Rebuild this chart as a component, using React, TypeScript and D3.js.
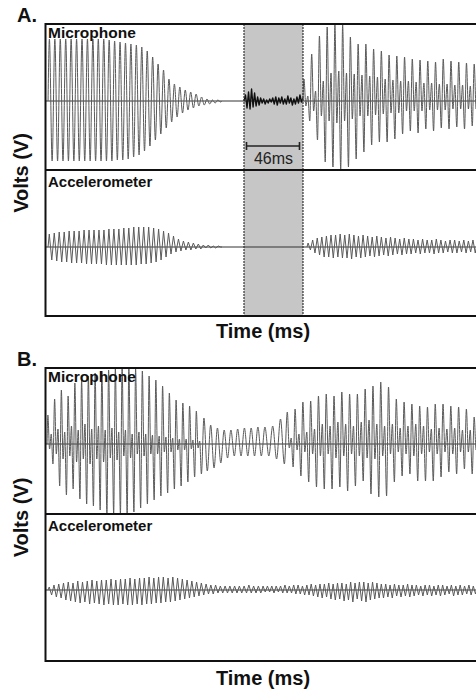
import React from 'react';
import * as d3 from 'd3';

// ---------------- DATA (arbitrary signal units) ----------------
// Time window (ms) covered by each panel
const TIME_DOMAIN: [number, number] = [0, 340];
const GAP_START_MS = 154.4;
const GAP_LENGTH_MS = 46;

// Panel A – Microphone, before the gap (per-cycle peaks)
const MIC_A1_TOPS = [62, 62, 62, 62, 62, 62, 62, 62, 62, 62, 62, 61, 60, 59, 58, 57, 56, 54, 50, 44, 37, 31, 22, 17, 14, 11, 9, 7, 4, 2, 1, 1];
const MIC_A1_BOTS = [-60, -60, -60, -60, -60, -60, -60, -60, -60, -60, -60, -60, -59, -59, -58, -56, -54, -50, -45, -39, -33, -27, -21, -16, -12, -9, -7, -5, -4, -3, -2, -1];
// Panel A – Microphone, noise inside the 46 ms gap
const MIC_A_GAP = [0, 6, -7, 9, -8, 12, -6, 8, -5, 4, -4, 3, -2, 2, -3, 1, -2, 2, -1, 3, -3, 4, -4, 3, -2, 4, -3, 2, -3, 5, -2, 3, -4, 2, -3, 4, -2, 6, -1, 3];
// Panel A – Microphone, after the gap
const MIC_A2_TOPS = [22, 47, 65, 74, 77, 76, 64, 57, 57, 52, 50, 46, 45, 44, 42, 41, 40, 39, 42, 40, 39, 38, 37];
const MIC_A2_DIPS = [-5, -10, -15, -20, -22, -20, -18, -15, -15, -14, -13, -12, -12, -10, -10, -10, -9, -9, -9, -8, -8, -8, -8];
const MIC_A2_SUBS = [5, 10, 20, 28, 30, 28, 27, 26, 25, 24, 22, 21, 20, 20, 19, 18, 18, 17, 17, 16, 16, 15, 15];
const MIC_A2_BOTS = [-20, -39, -61, -66, -68, -66, -58, -51, -44, -41, -41, -38, -33, -30, -32, -28, -30, -27, -28, -26, -28, -25, -26];

// Panel A – Accelerometer
const ACC_A1_TOPS = [13, 14, 15, 15, 16, 16, 16, 17, 17, 17, 17, 17, 18, 18, 18, 19, 19, 20, 20, 20, 20, 19, 18, 16, 14, 11, 8, 6, 5, 4, 3, 2, 2, 1, 1];
const ACC_A1_BOTS = [-13, -14, -15, -15, -16, -16, -16, -17, -17, -17, -17, -18, -18, -18, -18, -18, -18, -18, -17, -17, -16, -15, -13, -10, -7, -5, -4, -3, -3, -2, -2, -1, -1, -1, 0];
const ACC_A2_TOPS = [4, 7, 9, 10, 11, 12, 12, 13, 12, 13, 12, 11, 12, 11, 10, 11, 10, 9, 10, 9, 8, 9, 8, 8, 7, 8, 7, 7, 8, 7, 6, 7, 7, 6, 7, 6, 7, 6];
const ACC_A2_BOTS = [-3, -6, -8, -10, -10, -11, -10, -11, -11, -12, -10, -11, -10, -9, -10, -9, -8, -9, -8, -7, -8, -7, -7, -6, -7, -6, -6, -7, -6, -6, -5, -6, -6, -5, -6, -5, -6, -5];

// Panel B – Microphone
const MIC_B1_TOPS = [29, 45, 54, 48, 61, 64, 68, 71, 73, 74, 76, 76, 76, 75, 73, 68, 64, 58, 51, 44, 41, 38, 33, 26, 19, 16, 14, 14, 15, 16, 16, 17];
const MIC_B1_DIPS = [-5, -10, -15, -12, -18, -15, -20, -15, -18, -14, -16, -12, -14, -10, -12, -10, -10, -8, -8, -6, -6, -5, -4, null, null, null, null, null, null, null, null, null];
const MIC_B1_SUBS = [10, 15, 12, 18, 14, 20, 15, 18, 14, 16, 12, 14, 10, 12, 10, 9, 8, 7, 6, 5, 5, 4, 3, null, null, null, null, null, null, null, null, null];
const MIC_B1_BOTS = [-20, -42, -51, -45, -55, -60, -62, -66, -69, -70, -70, -70, -68, -64, -60, -56, -52, -49, -45, -42, -38, -33, -30, -27, -24, -19, -14, -12, -12, -12, -12, -12];
const MIC_B2_TOPS = [17, 18, 25, 32, 35, 42, 43, 48, 50, 48, 52, 50, 50, 55, 58, 62, 57, 45, 42, 40, 38, 37, 40, 40, 38, 37, 35, 27];
const MIC_B2_DIPS = [null, null, null, -4, -6, -8, -10, -12, -10, -14, -12, -10, -12, -14, -15, -12, -10, -8, -10, -12, -10, -8, -10, -8, -10, -8, -8, -6];
const MIC_B2_SUBS = [null, null, null, 6, 10, 12, 15, 20, 18, 22, 20, 18, 22, 24, 20, 18, 20, 16, 18, 20, 18, 15, 16, 15, 16, 14, 14, 12];
const MIC_B2_BOTS = [-12, -15, -20, -23, -32, -38, -43, -45, -45, -43, -47, -42, -37, -50, -53, -52, -38, -32, -30, -37, -37, -37, -33, -28, -30, -25, -30, -28];

// Panel B – Accelerometer
const ACC_B1_TOPS = [3, 5, 6, 7, 8, 7, 9, 8, 9, 10, 9, 10, 10, 11, 10, 11, 11, 12, 11, 12, 12, 13, 12, 13, 13, 12, 13, 12, 11, 10, 9, 8, 7, 6, 5, 5, 4, 4, 4, 4, 4, 4, 5, 4, 4];
const ACC_B1_BOTS = [-5, -7, -8, -10, -11, -12, -13, -12, -14, -13, -14, -15, -14, -15, -15, -14, -15, -15, -14, -15, -14, -14, -13, -13, -12, -12, -11, -10, -9, -8, -7, -6, -5, -4, -4, -3, -3, -3, -3, -3, -3, -3, -3, -3, -3];
const ACC_B2_TOPS = [4, 4, 4, 4, 4, 5, 4, 5, 5, 4, 5, 6, 5, 6, 6, 7, 6, 7, 7, 6, 8, 7, 8, 8, 7, 8, 7, 6, 6, 5, 6, 5, 5, 6, 5, 5, 4, 5, 5, 4, 5, 5, 4, 5, 4, 5, 4, 5, 4, 5];
const ACC_B2_BOTS = [-2, -2, -3, -2, -3, -3, -3, -4, -4, -5, -5, -6, -7, -8, -7, -9, -10, -9, -11, -10, -12, -9, -11, -12, -10, -9, -8, -8, -7, -8, -6, -7, -6, -7, -6, -5, -6, -5, -6, -5, -6, -5, -4, -6, -5, -5, -4, -5, -4, -5];

// Segment time spans (ms)
const SEG_MIC_A1: [number, number] = [1.6, 137.2];
const SEG_MIC_A2: [number, number] = [200.4, 339.2];
const SEG_ACC_A1: [number, number] = [1.6, 137.2];
const SEG_ACC_A2: [number, number] = [203.5, 339.2];
const SEG_MIC_B1: [number, number] = [0.8, 169.2];
const SEG_MIC_B2: [number, number] = [169.2, 339.2];
const SEG_ACC_B1: [number, number] = [1.6, 168.4];
const SEG_ACC_B2: [number, number] = [168.4, 339.2];

// ---------------- LAYOUT ----------------
const W = 476;
const H = 692;
const LEFT = 45.5;
const FONT = '"Liberation Sans", Arial, Helvetica, sans-serif';

type Seg = {
  span: [number, number];
  tops?: number[];
  bots?: number[];
  dips?: (number | null)[];
  subs?: (number | null)[];
  vals?: number[];
  linear?: boolean;
  color?: string;
  width?: number;
};

function segPoints(seg: Seg): [number, number][] {
  const [t0, t1] = seg.span;
  if (seg.vals) {
    const n = seg.vals.length;
    return seg.vals.map((v, i) => [t0 + ((t1 - t0) * i) / (n - 1), v] as [number, number]);
  }
  const tops = seg.tops!;
  const bots = seg.bots!;
  const n = tops.length;
  const P = (t1 - t0) / n;
  const pts: [number, number][] = [[t0, 0]];
  for (let i = 0; i < n; i++) {
    const ext: number[] = [tops[i]];
    const d = seg.dips ? seg.dips[i] : null;
    const s = seg.subs ? seg.subs[i] : null;
    if (d != null && s != null) ext.push(d, s);
    ext.push(bots[i]);
    const c0 = t0 + i * P;
    ext.forEach((v, j) => pts.push([c0 + (P * (j + 0.5)) / ext.length, v]));
  }
  pts.push([t1, 0]);
  return pts;
}

type Sub = {
  id: string;
  label: string;
  top: number;
  bottom: number;
  domain: [number, number];
  segs: Seg[];
};

type Panel = {
  letter: string;
  letterY: number;
  top: number;
  mid: number;
  bottom: number;
  subs: Sub[];
  gap: boolean;
  titleY: number;
};

const x = d3.scaleLinear().domain(TIME_DOMAIN).range([46, 482]);

const panels: Panel[] = [
  {
    letter: 'A.',
    letterY: 22,
    top: 24,
    mid: 170,
    bottom: 316,
    gap: true,
    titleY: 338,
    subs: [
      {
        id: 'amic', label: 'Microphone', top: 24, bottom: 170, domain: [-69, 77],
        segs: [
          { span: SEG_MIC_A1, tops: MIC_A1_TOPS, bots: MIC_A1_BOTS },
          { span: [GAP_START_MS, GAP_START_MS + GAP_LENGTH_MS], vals: MIC_A_GAP, linear: true, color: '#111', width: 1.4 },
          { span: SEG_MIC_A2, tops: MIC_A2_TOPS, bots: MIC_A2_BOTS, dips: MIC_A2_DIPS, subs: MIC_A2_SUBS },
        ],
      },
      {
        id: 'aacc', label: 'Accelerometer', top: 170, bottom: 316, domain: [-69, 77],
        segs: [
          { span: SEG_ACC_A1, tops: ACC_A1_TOPS, bots: ACC_A1_BOTS, linear: true },
          { span: SEG_ACC_A2, tops: ACC_A2_TOPS, bots: ACC_A2_BOTS, linear: true },
        ],
      },
    ],
  },
  {
    letter: 'B.',
    letterY: 366,
    top: 368,
    mid: 514,
    bottom: 661,
    gap: false,
    titleY: 685,
    subs: [
      {
        id: 'bmic', label: 'Microphone', top: 368, bottom: 514, domain: [-70, 76],
        segs: [
          { span: SEG_MIC_B1, tops: MIC_B1_TOPS, bots: MIC_B1_BOTS, dips: MIC_B1_DIPS, subs: MIC_B1_SUBS },
          { span: SEG_MIC_B2, tops: MIC_B2_TOPS, bots: MIC_B2_BOTS, dips: MIC_B2_DIPS, subs: MIC_B2_SUBS },
        ],
      },
      {
        id: 'bacc', label: 'Accelerometer', top: 514, bottom: 661, domain: [-71, 76],
        segs: [
          { span: SEG_ACC_B1, tops: ACC_B1_TOPS, bots: ACC_B1_BOTS, linear: true },
          { span: SEG_ACC_B2, tops: ACC_B2_TOPS, bots: ACC_B2_BOTS, linear: true },
        ],
      },
    ],
  },
];

export default function App() {
  return (
    <svg
      width={W}
      height={H}
      viewBox={`0 0 ${W} ${H}`}
      style={{ position: 'absolute', left: 0, top: 0, background: '#fff' }}
      fontFamily={FONT}
    >
      <rect x={0} y={0} width={W} height={H} fill="#fff" />
      <defs>
        {panels.flatMap((p) =>
          p.subs.map((s) => (
            <clipPath id={`clip-${s.id}`} key={s.id}>
              <rect x={LEFT} y={s.top} width={W - LEFT} height={s.bottom - s.top} />
            </clipPath>
          ))
        )}
      </defs>
      {panels.map((p) => {
        const gx0 = x(GAP_START_MS);
        const gx1 = x(GAP_START_MS + GAP_LENGTH_MS);
        return (
          <g key={p.letter}>
            {p.gap && (
              <g>
                <rect x={gx0} y={p.top} width={gx1 - gx0} height={p.bottom - p.top} fill="#c6c6c6" />
              </g>
            )}
            {p.subs.map((s) => {
              const y = d3.scaleLinear().domain(s.domain).range([s.bottom, s.top]);
              const line = d3
                .line<[number, number]>()
                .x((d) => x(d[0]))
                .y((d) => y(d[1]))
                .curve(d3.curveMonotoneX);
              const lin = d3
                .line<[number, number]>()
                .x((d) => x(d[0]))
                .y((d) => y(d[1]))
                .curve(d3.curveLinear);
              return (
                <g key={s.id}>
                  <g clipPath={`url(#clip-${s.id})`}>
                    <line x1={LEFT} x2={W} y1={y(0)} y2={y(0)} stroke="#333" strokeWidth={1} />
                    {s.segs.map((seg, i) => (
                      <path
                        key={i}
                        d={(seg.linear ? lin : line)(segPoints(seg)) || ''}
                        fill="none"
                        stroke={seg.color || '#5a5a5a'}
                        strokeWidth={seg.width || 1}
                        strokeLinejoin="round"
                      />
                    ))}
                  </g>
                  <text
                    x={48}
                    y={s.top + (s.label === 'Microphone' ? 14 : 17)}
                    fontSize={s.label === 'Microphone' ? 15.5 : 15}
                    fontWeight="bold"
                    fill="#111"
                  >
                    {s.label}
                  </text>
                </g>
              );
            })}
            {p.gap && (
              <g>
                <line x1={gx0} x2={gx0} y1={p.top} y2={p.bottom} stroke="#333" strokeWidth={1.2} strokeDasharray="2 1" />
                <line x1={gx1} x2={gx1} y1={p.top} y2={p.bottom} stroke="#333" strokeWidth={1.2} strokeDasharray="2 1" />
                <line x1={gx0 + 2.5} x2={gx1 - 3.5} y1={146} y2={146} stroke="#222" strokeWidth={1.6} />
                <line x1={gx0 + 2.5} x2={gx0 + 2.5} y1={142} y2={150} stroke="#222" strokeWidth={1.6} />
                <line x1={gx1 - 3.5} x2={gx1 - 3.5} y1={142} y2={150} stroke="#222" strokeWidth={1.6} />
                <text x={(gx0 + gx1) / 2} y={164} textAnchor="middle" fontSize={16} fill="#222">
                  {`${GAP_LENGTH_MS}ms`}
                </text>
              </g>
            )}
            <rect x={LEFT} y={p.top} width={W + 10} height={p.bottom - p.top} fill="none" stroke="#111" strokeWidth={2} />
            <line x1={LEFT} x2={W} y1={p.mid} y2={p.mid} stroke="#111" strokeWidth={2} />
            <text x={17} y={p.letterY} fontSize={20} fontWeight="bold" fill="#111">
              {p.letter}
            </text>
            <text
              transform={`translate(28,${(p.top + p.bottom) / 2 + 3}) rotate(-90)`}
              textAnchor="middle"
              fontSize={20}
              fontWeight="bold"
              fill="#111"
            >
              Volts (V)
            </text>
            <text x={263} y={p.titleY} textAnchor="middle" fontSize={20} fontWeight="bold" fill="#111">
              Time (ms)
            </text>
          </g>
        );
      })}
    </svg>
  );
}
